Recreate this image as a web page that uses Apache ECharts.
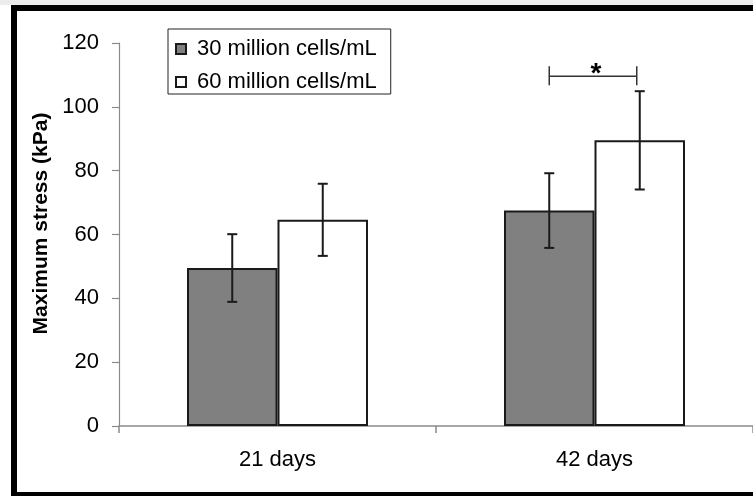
<!DOCTYPE html>
<html>
<head>
<meta charset="utf-8">
<script src="https://cdn.jsdelivr.net/npm/echarts@6/dist/echarts.min.js"></script>
<style>
html,body{margin:0;padding:0;background:#fff;}
#chart{width:753px;height:496px;}
</style>
</head>
<body>
<div id="chart"></div>
<script>
// ---- data ----
const categories = ['21 days', '42 days'];
const seriesNames = ['30 million cells/mL', '60 million cells/mL'];
const mean30 = [49.5, 67.5];
const mean60 = [64.6, 89.5];
const err30 = [10.6, 11.7];
const err60 = [11.3, 15.4];
const yMin = 0, yMax = 120, yInterval = 20;
const sigCategory = 1;
const sigLevel = 109.6;
const sigLabel = '*';
const yAxisTitle = 'Maximum stress (kPa)';

// ---- styles ----
const FONT = '"Liberation Sans", Arial, sans-serif';
const BAR_W = 90.5;
const AXIS_GREY = '#8a8a8a';
const DARK = '#1a1a1a';

const chart = echarts.init(document.getElementById('chart'), null, {renderer: 'canvas'});

function errRender(offsetSign) {
  return function (params, api) {
    const idx = api.value(0);
    const m = api.value(1);
    const e = api.value(2);
    const c = api.coord([idx, m]);
    const x = c[0] + offsetSign * BAR_W / 2;
    const yt = api.coord([idx, m + e])[1];
    const yb = api.coord([idx, m - e])[1];
    const capW = 5;
    const st = {stroke: DARK, lineWidth: 2};
    return {
      type: 'group',
      children: [
        {type: 'line', shape: {x1: x, y1: yt, x2: x, y2: yb}, style: st},
        {type: 'line', shape: {x1: x - capW, y1: yt, x2: x + capW, y2: yt}, style: st},
        {type: 'line', shape: {x1: x - capW, y1: yb, x2: x + capW, y2: yb}, style: st}
      ]
    };
  };
}

const option = {
  backgroundColor: '#fff',
  animation: false,
  graphic: [
    {type: 'rect', z: 100, shape: {x: 0, y: 0, width: 753, height: 5}, style: {fill: '#ececec'}},
    {type: 'rect', z: 100, shape: {x: 14, y: 8, width: 800, height: 487}, style: {fill: 'none', stroke: '#000', lineWidth: 6}}
  ],
  grid: {left: 119, top: 43, width: 639, height: 383, containLabel: false},
  legend: {
    data: seriesNames,
    orient: 'vertical',
    left: 168,
    top: 29,
    padding: [9, 14, 1, 7],
    itemGap: 11,
    itemWidth: 10,
    itemHeight: 10,
    icon: 'rect',
    borderColor: '#222',
    borderWidth: 1,
    backgroundColor: '#fff',
    textStyle: {fontFamily: FONT, fontSize: 22, color: '#000', padding: [0, 0, 0, 6]}
  },
  xAxis: {
    type: 'category',
    data: categories,
    axisLine: {lineStyle: {color: AXIS_GREY, width: 1.5}},
    axisTick: {show: true, length: 7, lineStyle: {color: AXIS_GREY, width: 1.5}},
    axisLabel: {fontFamily: FONT, fontSize: 22, color: '#000', margin: 23}
  },
  yAxis: {
    type: 'value',
    min: yMin,
    max: yMax,
    interval: yInterval,
    name: yAxisTitle,
    nameLocation: 'middle',
    nameGap: 64,
    nameTextStyle: {fontFamily: FONT, fontSize: 21, fontWeight: 'bold', color: '#000', padding: [0, 0, 0, 22]},
    splitLine: {show: false},
    axisLine: {show: true, lineStyle: {color: AXIS_GREY, width: 1.2}},
    axisTick: {show: true, length: 7, lineStyle: {color: AXIS_GREY, width: 1.2}},
    axisLabel: {fontFamily: FONT, fontSize: 22, color: '#000', margin: 20}
  },
  series: [
    {
      name: seriesNames[0],
      type: 'bar',
      data: mean30,
      barWidth: BAR_W,
      barGap: '0%',
      itemStyle: {color: '#808080', borderColor: DARK, borderWidth: 2},
      z: 2
    },
    {
      name: seriesNames[1],
      type: 'bar',
      data: mean60,
      barWidth: BAR_W,
      barGap: '0%',
      itemStyle: {color: '#ffffff', borderColor: DARK, borderWidth: 2},
      z: 2
    },
    {
      type: 'custom',
      name: 'err30',
      renderItem: errRender(-1),
      data: categories.map((c, i) => [i, mean30[i], err30[i]]),
      z: 5,
      silent: true
    },
    {
      type: 'custom',
      name: 'err60',
      renderItem: errRender(1),
      data: categories.map((c, i) => [i, mean60[i], err60[i]]),
      z: 5,
      silent: true
    },
    {
      type: 'custom',
      name: 'sig',
      silent: true,
      z: 6,
      data: [[sigCategory, sigLevel]],
      renderItem: function (params, api) {
        const idx = api.value(0);
        const c = api.coord([idx, api.value(1)]);
        const x1 = c[0] - BAR_W / 2;
        const x2 = c[0] + BAR_W / 2 - 3;
        const y = c[1];
        const st = {stroke: '#333', lineWidth: 1.5};
        return {
          type: 'group',
          children: [
            {type: 'line', shape: {x1: x1, y1: y, x2: x2, y2: y}, style: st},
            {type: 'line', shape: {x1: x1, y1: y - 10, x2: x1, y2: y + 9}, style: st},
            {type: 'line', shape: {x1: x2, y1: y - 10, x2: x2, y2: y + 9}, style: st},
            {type: 'text', style: {text: sigLabel, x: (x1 + x2) / 2 + 3, y: y - 2, align: 'center', verticalAlign: 'middle',
              font: 'bold 28px ' + FONT, fill: '#000'}}
          ]
        };
      }
    }
  ]
};
chart.setOption(option);
</script>
</body>
</html>
